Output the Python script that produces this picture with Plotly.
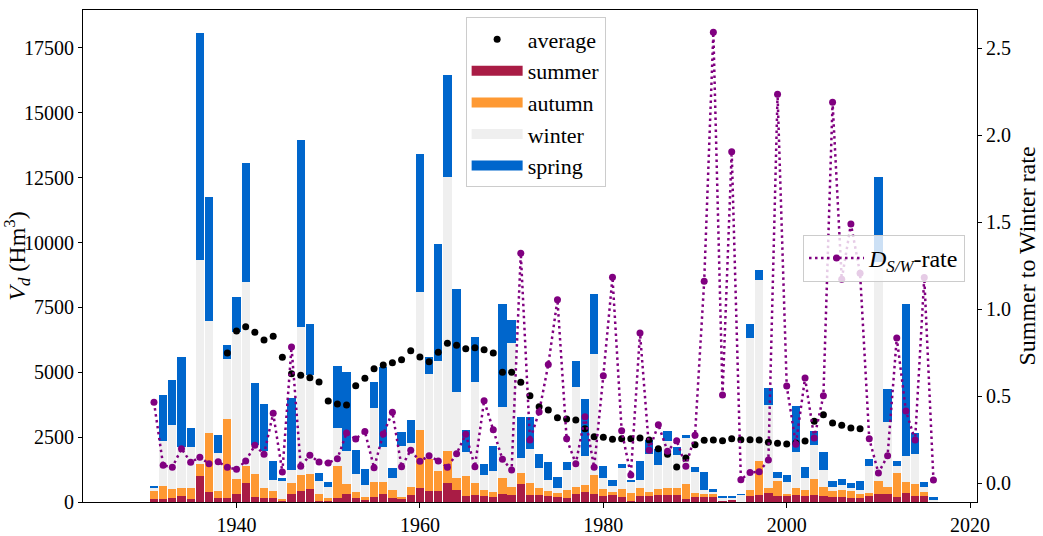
import plotly.graph_objects as go

years = list(range(1931, 2017))

# cumulative tops (summer, +autumn, +winter, +spring)
summer_top = [103,128,167,244,128,1015,398,141,167,308,732,193,167,167,20,308,424,501,50,40,
              154,308,167,77,193,308,154,116,270,540,424,424,732,463,231,270,231,193,308,270,
              694,270,270,231,193,154,308,386,308,231,270,193,39,231,231,270,270,270,116,193,
              193,193,60,77,10,231,270,347,231,231,270,231,270,231,193,193,154,154,231,308,
              308,193,347,231,231,20]
autumn_top = [437,617,514,552,552,1478,2673,437,3200,886,1400,1079,552,424,128,732,1040,1079,308,154,
              1387,694,386,193,771,771,463,193,578,2776,1658,1195,1966,925,1002,732,463,386,925,578,
              1118,732,540,424,347,463,578,655,1041,501,386,501,347,540,386,501,540,540,694,347,
              308,308,70,90,15,463,1580,540,810,308,540,463,887,578,424,463,424,308,347,810,
              578,1118,771,694,386,30]
winter_top = [540,2352,2969,2133,2133,9329,6977,1902,5513,6564,8479,2197,1966,848,810,1233,6744,4895,810,578,
              2852,1966,1079,655,3624,2120,925,2159,2274,8094,4935,5435,12526,4240,1928,4626,1041,1195,3662,6130,
              1696,2043,1311,848,540,1233,4433,1773,5705,925,617,1311,771,848,1850,1426,2352,1812,2467,1157,
              463,386,141,154,270,6322,8558,3739,925,771,1928,925,2197,1233,578,655,540,463,1388,9250,
              3084,1388,1773,1850,578,90]
spring_top = [591,4125,4703,5590,2853,18075,11755,2583,6053,7900,13065,4586,3777,1580,938,4008,13951,6860,1118,771,
              5244,5012,2005,1272,4626,5204,1311,2699,3161,13412,5590,9943,16457,8211,2776,6361,1465,2159,7633,7016,
              3277,3277,1850,1542,964,1542,5435,3971,8018,1388,848,1465,810,1580,2390,2043,2737,2120,2583,1349,
              1157,501,231,193,308,6862,8944,4395,1157,1041,3701,1349,2737,1928,810,887,732,810,1658,12526,
              4356,1580,7633,2660,771,193]

summer = summer_top
autumn = [a - s for a, s in zip(autumn_top, summer_top)]
winter = [w - a for w, a in zip(winter_top, autumn_top)]
spring = [p - w for p, w in zip(spring_top, winter_top)]

avg_years = list(range(1939, 2009))
average = [5742,6590,6757,6540,6243,6385,5576,4946,4882,4792,4625,3893,3777,3738,4484,4767,5138,5280,5369,5485,
           5831,5588,5408,5769,6116,6039,5908,5947,5870,5742,4998,4998,4613,4097,3673,3546,3249,3199,3160,2825,
           2517,2493,2416,2440,2440,2467,2390,2054,1838,1349,1696,2208,2378,2390,2363,2440,2401,2401,2390,2301,
           2262,2235,2274,2351,3110,3365,3045,2955,2852,2825]

rate = [0.466,0.103,0.092,0.199,0.121,0.149,0.113,0.124,0.092,0.080,0.128,0.218,0.167,0.402,0.065,0.783,0.098,0.161,0.122,0.117,
        0.141,0.289,0.255,0.297,0.090,0.283,0.408,0.095,0.190,0.126,0.159,0.128,0.092,0.170,0.282,0.095,0.475,0.308,0.138,0.076,
        1.322,0.249,0.410,0.682,1.055,0.256,0.113,0.383,0.092,0.618,1.184,0.302,0.048,0.864,0.190,0.337,0.184,0.245,0.098,0.276,
        1.161,2.592,0.508,1.906,0.021,0.062,0.066,0.134,2.236,0.559,0.225,0.605,0.260,0.503,2.190,1.172,1.490,1.207,0.256,0.059,
        0.158,0.835,0.416,0.249,1.182,0.019]

season_names = ["summer", "autumn", "winter", "spring"]
season_vals = [summer, autumn, winter, spring]
season_cols = ["#A91C45", "#FE9933", "#EFEFEF", "#0066CC"]

FONT = "Liberation Serif"
fig = go.Figure()

for name, vals, col in zip(season_names, season_vals, season_cols):
    fig.add_trace(go.Bar(x=years, y=vals, width=0.9, marker=dict(color=col, line=dict(width=0)),
                         name=name, showlegend=False, yaxis="y"))

fig.add_trace(go.Scatter(x=avg_years, y=average, mode="markers", name="average",
                         marker=dict(color="black", size=7), yaxis="y",
                         legendgroup="g0", legendrank=1))

for i, (name, col) in enumerate(zip(season_names, season_cols)):
    fig.add_trace(go.Scatter(x=[None], y=[None], mode="lines", name=name,
                             line=dict(color=col, width=16), yaxis="y",
                             legendgroup="g%d" % (i + 1), legendrank=i + 2))

fig.add_trace(go.Scatter(x=years, y=rate, mode="lines+markers",
                         name="<i>D</i><sub><i>S/W</i></sub>-rate",
                         line=dict(color="#800080", width=2.5, dash="2.5px,3.5px"),
                         marker=dict(color="#800080", size=7), yaxis="y2", legend="legend2"))

fig.update_layout(
    width=1043, height=536,
    margin=dict(l=83, r=66, t=10, b=34),
    plot_bgcolor="white", paper_bgcolor="white",
    barmode="stack",
    font=dict(family=FONT, size=20, color="black"),
    xaxis=dict(range=[1923.26, 2020.75], tickvals=[1940, 1960, 1980, 2000, 2020],
               showgrid=False, zeroline=False, showline=True, linecolor="black", linewidth=1.2,
               mirror=True, ticks="outside", ticklen=5, tickwidth=1, tickcolor="black",
               automargin=False),
    yaxis=dict(range=[0, 18962], tickvals=list(range(0, 17501, 2500)), tickformat="d",
               showgrid=False, zeroline=False, showline=True, linecolor="black", linewidth=1.2,
               mirror=True, ticks="outside", ticklen=4, tickwidth=1, tickcolor="black",
               title=dict(text="<i>V<sub>d</sub></i> (Hm<sup>3</sup>)", standoff=10), automargin=False),
    yaxis2=dict(range=[-0.1075, 2.72], tickvals=[0, 0.5, 1.0, 1.5, 2.0, 2.5], tickformat=".1f",
                overlaying="y", side="right", showgrid=False, zeroline=False,
                showline=True, linecolor="black", linewidth=1.2,
                ticks="outside", ticklen=4, tickwidth=1, tickcolor="black",
                title=dict(text="Summer to Winter rate", standoff=8), automargin=False),
    legend=dict(x=0.428, y=0.985, xanchor="left", yanchor="top",
                bgcolor="rgba(255,255,255,0.85)", bordercolor="#cccccc", borderwidth=1,
                font=dict(family=FONT, size=22), traceorder="grouped", tracegroupgap=0,
                itemwidth=51),
    legend2=dict(x=0.9866, y=0.5427, xanchor="right", yanchor="top",
                 bgcolor="rgba(255,255,255,0.8)", bordercolor="#cccccc", borderwidth=1,
                 font=dict(family=FONT, size=24), itemwidth=55),
)

fig.write_html("out.html")
